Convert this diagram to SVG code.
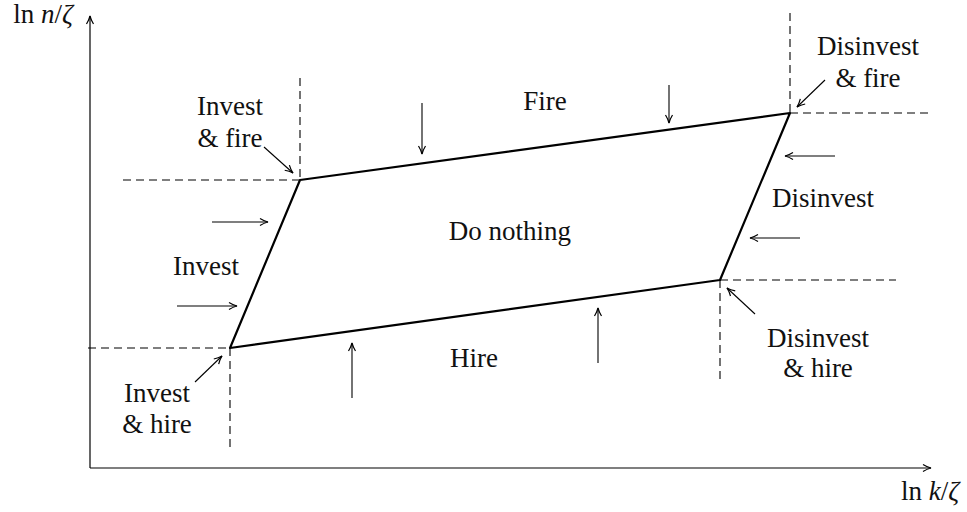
<svg xmlns="http://www.w3.org/2000/svg" width="967" height="512" viewBox="0 0 967 512">
<style>
text{font-family:"Liberation Serif","Times New Roman",serif;font-size:27px;fill:#111;text-anchor:middle}
.ax{stroke:#000;stroke-width:1.2;fill:none}
.d{stroke:#000;stroke-width:1.1;stroke-dasharray:8 5;fill:none}
.a{stroke:#000;stroke-width:1.1;fill:none;marker-end:url(#ah)}
.p{stroke:#000;stroke-width:2.2;fill:none;stroke-linejoin:round}
.m{font-style:italic}
</style>
<defs>
<marker id="ah" viewBox="0 0 10 10" refX="9" refY="5" markerWidth="10" markerHeight="10" markerUnits="userSpaceOnUse" orient="auto">
<path d="M1,1.5 Q5,4 9,5 Q5,6 1,8.5" stroke="#000" stroke-width="1.2" fill="none"/>
</marker>
</defs>
<g id="axes">
<line class="ax" x1="90" y1="468" x2="90" y2="16" marker-end="url(#ah)"/>
<line class="ax" x1="90" y1="468" x2="931" y2="468" marker-end="url(#ah)"/>
<text x="43" y="23">ln <tspan class="m">n</tspan>/<tspan class="m">ζ</tspan></text>
<text x="930" y="500">ln <tspan class="m">k</tspan>/<tspan class="m">ζ</tspan></text>
</g>
<g id="guides">
<path class="d" d="M300,78 V180 M123,180 H300"/>
<path class="d" d="M790,13 V113 M790,113 H932"/>
<path class="d" d="M720,280 V383 M720,280 H896"/>
<path class="d" d="M88,348 H230 M230,348 V449"/>
</g>
<g id="region">
<path class="p" d="M300,180 L790,113 L720,280 L230,348 Z"/>
</g>
<g id="connectors">
<line class="a" x1="422" y1="103" x2="422" y2="154"/>
<line class="a" x1="669" y1="85" x2="669" y2="123"/>
<line class="a" x1="835" y1="156" x2="785" y2="156"/>
<line class="a" x1="800" y1="238" x2="750" y2="238"/>
<line class="a" x1="212" y1="222" x2="268" y2="222"/>
<line class="a" x1="177" y1="306" x2="237" y2="306"/>
<line class="a" x1="352" y1="398" x2="352" y2="343"/>
<line class="a" x1="598" y1="363" x2="598" y2="308"/>
<line class="a" x1="264" y1="147" x2="293" y2="173"/>
<line class="a" x1="825" y1="80" x2="797" y2="107"/>
<line class="a" x1="195" y1="382" x2="222" y2="356"/>
<line class="a" x1="755" y1="314" x2="727" y2="288"/>
</g>
<g id="labels">
<text x="545" y="110">Fire</text>
<text x="510" y="240">Do nothing</text>
<text x="206" y="275">Invest</text>
<text x="474" y="367">Hire</text>
<text x="823" y="207">Disinvest</text>
<text x="230" y="115">Invest</text>
<text x="230" y="147">&amp; fire</text>
<text x="868" y="55">Disinvest</text>
<text x="868" y="87">&amp; fire</text>
<text x="157" y="402">Invest</text>
<text x="157" y="433">&amp; hire</text>
<text x="818" y="347">Disinvest</text>
<text x="818" y="377">&amp; hire</text>
</g>
</svg>
